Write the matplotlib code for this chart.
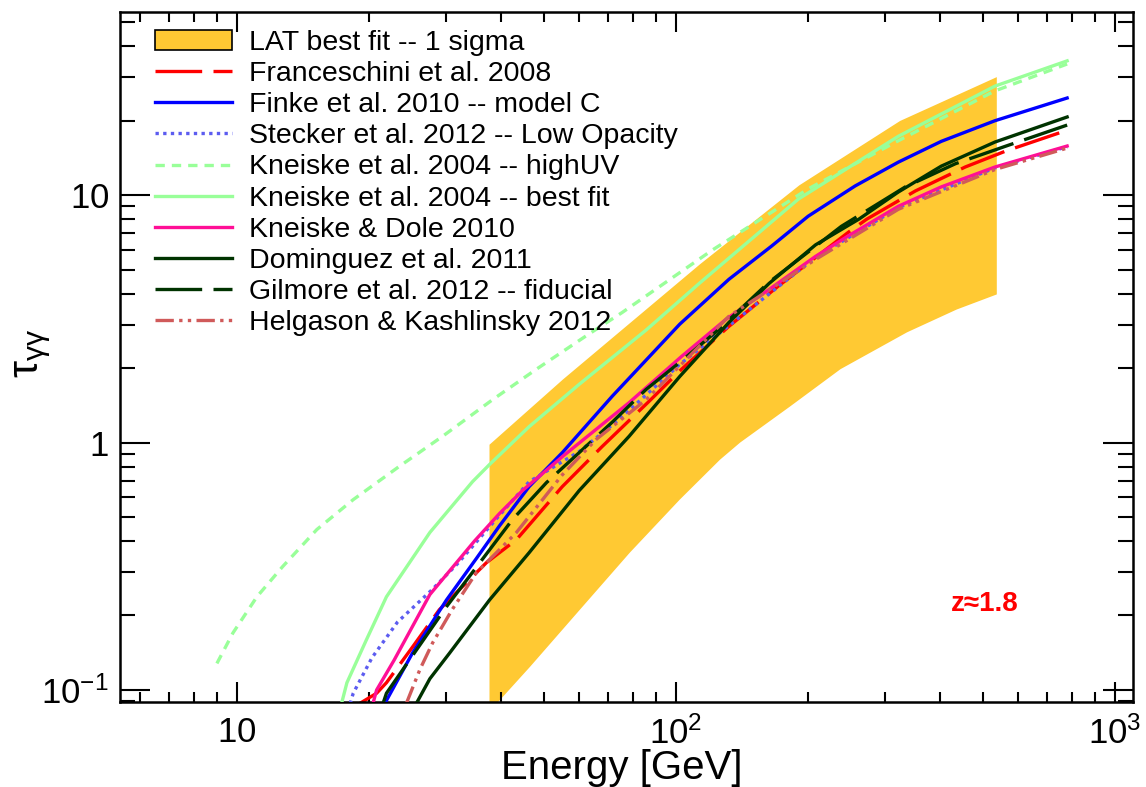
import numpy as np
import matplotlib
matplotlib.use('Agg')
import matplotlib.pyplot as plt
from matplotlib.patches import Patch
from matplotlib.ticker import FixedLocator, FixedFormatter, LogLocator, NullFormatter

plt.rcParams['font.family'] = ['Liberation Sans', 'DejaVu Sans']
plt.rcParams['mathtext.fontset'] = 'custom'
plt.rcParams['mathtext.rm'] = 'Liberation Sans'
plt.rcParams['mathtext.it'] = 'Liberation Sans:italic'
plt.rcParams['mathtext.bf'] = 'Liberation Sans:bold'

# ---------------- data (energy in GeV, optical depth tau) ----------------
band_top_energy = [37.6, 55.3, 113.5, 191, 324, 538]
band_top_tau = [0.98, 1.80, 5.26, 10.96, 19.95, 30.0]
band_bottom_energy = [37.6, 39.7, 46.5, 60.4, 78.5, 102, 126, 140, 182, 237, 336, 436, 538]
band_bottom_tau = [0.082, 0.091, 0.124, 0.211, 0.359, 0.588, 0.853, 1.0, 1.40, 1.98, 2.79, 3.45, 3.97]

franceschini_E = [19.0, 20.8, 21.9, 25.1, 28.9, 37.0, 43.3, 55.1, 67.9, 86.9, 103, 132, 171, 247, 272, 351, 456, 565, 778]
franceschini_tau = [0.088, 0.097, 0.107, 0.149, 0.211, 0.327, 0.405, 0.664, 0.964, 1.47, 1.98, 2.95, 4.29, 7.08, 8.0, 10.4, 13.0, 15.1, 18.3]

finke_E = [21.7, 25.1, 30.0, 35.1, 39.6, 46.3, 55.1, 71.6, 102, 132, 165, 200, 256, 321, 402, 533, 778]
finke_tau = [0.088, 0.141, 0.231, 0.34, 0.46, 0.664, 0.911, 1.54, 3.01, 4.57, 6.22, 8.22, 10.9, 13.6, 16.5, 20.0, 24.7]

stecker_E = [18.1, 18.4, 20.3, 23.2, 27.8, 31.8, 39.2, 46.3, 60.2, 74.2, 102, 208, 321, 533, 778]
stecker_tau = [0.088, 0.097, 0.135, 0.188, 0.254, 0.324, 0.497, 0.695, 0.92, 1.24, 2.07, 5.61, 8.9, 12.9, 15.7]

kneiske_hiuv_E = [9.0, 9.79, 11.1, 12.7, 15.2, 18.4, 23.4, 29.4, 38.2, 48.1, 63.4, 75.3, 121, 200, 321, 533, 778]
kneiske_hiuv_tau = [0.128, 0.17, 0.238, 0.315, 0.445, 0.588, 0.80, 1.06, 1.49, 1.98, 2.75, 3.35, 6.0, 10.6, 16.6, 26.4, 33.9]

kneiske_best_E = [17.3, 17.8, 19.7, 21.9, 27.5, 34.4, 37.6, 46.3, 60.2, 85.5, 113, 190, 321, 533, 778]
kneiske_best_tau = [0.088, 0.107, 0.159, 0.238, 0.433, 0.695, 0.815, 1.16, 1.72, 2.85, 4.4, 9.64, 17.3, 27.6, 34.9]

kneiske_dole_E = [20.4, 20.8, 22.8, 27.5, 34.8, 39.6, 44.7, 55.1, 78.2, 103, 130, 163, 208, 247, 321, 402, 533, 778]
kneiske_dole_tau = [0.088, 0.1, 0.132, 0.243, 0.401, 0.516, 0.64, 0.877, 1.45, 2.23, 3.15, 4.16, 5.66, 6.85, 9.02, 10.8, 13.0, 15.8]

dominguez_E = [25.6, 27.5, 30.5, 37.6, 46.3, 60.2, 78.2, 102, 132, 163, 208, 261, 321, 402, 533, 778]
dominguez_tau = [0.088, 0.111, 0.141, 0.231, 0.359, 0.64, 1.06, 1.85, 3.06, 4.4, 6.3, 8.0, 10.3, 13.1, 16.4, 20.7]

gilmore_E = [21.5, 21.9, 24.7, 30.0, 35.6, 42.4, 50.7, 60.2, 71.6, 85.5, 102, 125, 163, 238, 333, 433, 565, 778]
gilmore_tau = [0.088, 0.097, 0.132, 0.217, 0.324, 0.488, 0.689, 0.911, 1.21, 1.64, 2.11, 2.86, 4.45, 7.48, 10.8, 13.4, 15.8, 19.2]

helgason_E = [24.3, 26.1, 27.9, 30.9, 35.1, 39.0, 43.3, 55.1, 65.8, 85.5, 105, 132, 208, 321, 533, 778]
helgason_tau = [0.088, 0.121, 0.155, 0.211, 0.298, 0.359, 0.433, 0.741, 1.03, 1.49, 2.15, 3.24, 5.5, 8.77, 12.7, 15.5]

labels = ['LAT best fit -- 1 sigma',
          'Franceschini et al. 2008',
          'Finke et al. 2010 -- model C',
          'Stecker et al. 2012 -- Low Opacity',
          'Kneiske et al. 2004 -- highUV',
          'Kneiske et al. 2004 -- best fit',
          'Kneiske & Dole 2010',
          'Dominguez et al. 2011',
          'Gilmore et al. 2012 -- fiducial',
          'Helgason & Kashlinsky 2012']

xticks = [10, 100, 1000]
xtick_labels = [r'$\mathregular{10}$', r'$\mathregular{10^{2}}$', r'$\mathregular{10^{3}}$']
yticks = [0.1, 1, 10]
ytick_labels = [r'$\mathregular{10^{-1}}$', r'$\mathregular{1}$', r'$\mathregular{10}$']

# ---------------- styles ----------------
BAND = '#ffc933'
RED = '#ff0000'
BLUE = '#0000ff'
STECKER = '#5c5cf0'
LGREEN = '#99ff99'
PINK = '#ff0f96'
DKGREEN = '#003300'
HELG = '#d05a5a'
LW = 2.4

fig = plt.figure(figsize=(11.46, 7.87), dpi=100)
ax = fig.add_axes([120 / 1146, 85 / 787, 1013 / 1146, 690 / 787])
ax.set_xscale('log')
ax.set_yscale('log')
ax.set_xlim(5.414, 1099)
ax.set_ylim(0.0894, 55)

ax.fill(band_top_energy + band_bottom_energy[::-1],
        band_top_tau + band_bottom_tau[::-1],
        color=BAND, lw=0, zorder=1)

series = [
    (franceschini_E, franceschini_tau, RED, (0, (14, 3.4))),
    (finke_E, finke_tau, BLUE, '-'),
    (stecker_E, stecker_tau, STECKER, (0, (1, 1.3))),
    (kneiske_hiuv_E, kneiske_hiuv_tau, LGREEN, (0, (2.8, 2.1))),
    (kneiske_best_E, kneiske_best_tau, LGREEN, '-'),
    (kneiske_dole_E, kneiske_dole_tau, PINK, '-'),
    (dominguez_E, dominguez_tau, DKGREEN, '-'),
    (gilmore_E, gilmore_tau, DKGREEN, (0, (14, 3.4))),
    (helgason_E, helgason_tau, HELG, (0, (5.5, 1.6, 1, 1.6, 1, 1.6))),
]

handles = [Patch(facecolor=BAND, edgecolor='black', lw=1.2)]
for i, (e, t, c, ls) in enumerate(series):
    ln, = ax.plot(e, t, color=c, lw=LW, linestyle=ls, zorder=2 + i)
    handles.append(ln)

leg = ax.legend(handles, labels, loc='upper left',
                bbox_to_anchor=(35 / 1013, 1 - 18 / 690),
                frameon=False, fontsize=20.5, borderpad=0, borderaxespad=0,
                labelspacing=0.18, handlelength=2.7, handletextpad=0.6)

ax.xaxis.set_major_locator(FixedLocator(xticks))
ax.xaxis.set_major_formatter(FixedFormatter(xtick_labels))
ax.xaxis.set_minor_locator(LogLocator(base=10, subs=range(2, 10), numticks=20))
ax.xaxis.set_minor_formatter(NullFormatter())
ax.yaxis.set_major_locator(FixedLocator(yticks))
ax.yaxis.set_major_formatter(FixedFormatter(ytick_labels))
ax.yaxis.set_minor_locator(LogLocator(base=10, subs=range(2, 10), numticks=20))
ax.yaxis.set_minor_formatter(NullFormatter())

ax.tick_params(which='both', direction='in', top=True, right=True, width=1.5, color='black')
ax.tick_params(axis='x', which='major', length=14.4, pad=10, labelsize=25)
ax.tick_params(axis='x', which='minor', length=7.2)
ax.tick_params(axis='y', which='major', length=21.6, pad=8, labelsize=25)
ax.tick_params(axis='y', which='minor', length=10.8)
for sp in ax.spines.values():
    sp.set_linewidth(1.8)

ax.set_xlabel('Energy [GeV]', fontsize=29)
ax.xaxis.set_label_coords(0.4956, -0.068)
ax.set_ylabel(r'$\mathregular{τ_{γγ}}$', fontsize=31)
ax.yaxis.set_label_coords(-0.066, 0.505)

ax.text(0.854, 0.142, 'z≈1.8', transform=ax.transAxes, color='red',
        fontsize=20, fontweight='bold', ha='center', va='center')

fig.savefig('out.png', dpi=100)
